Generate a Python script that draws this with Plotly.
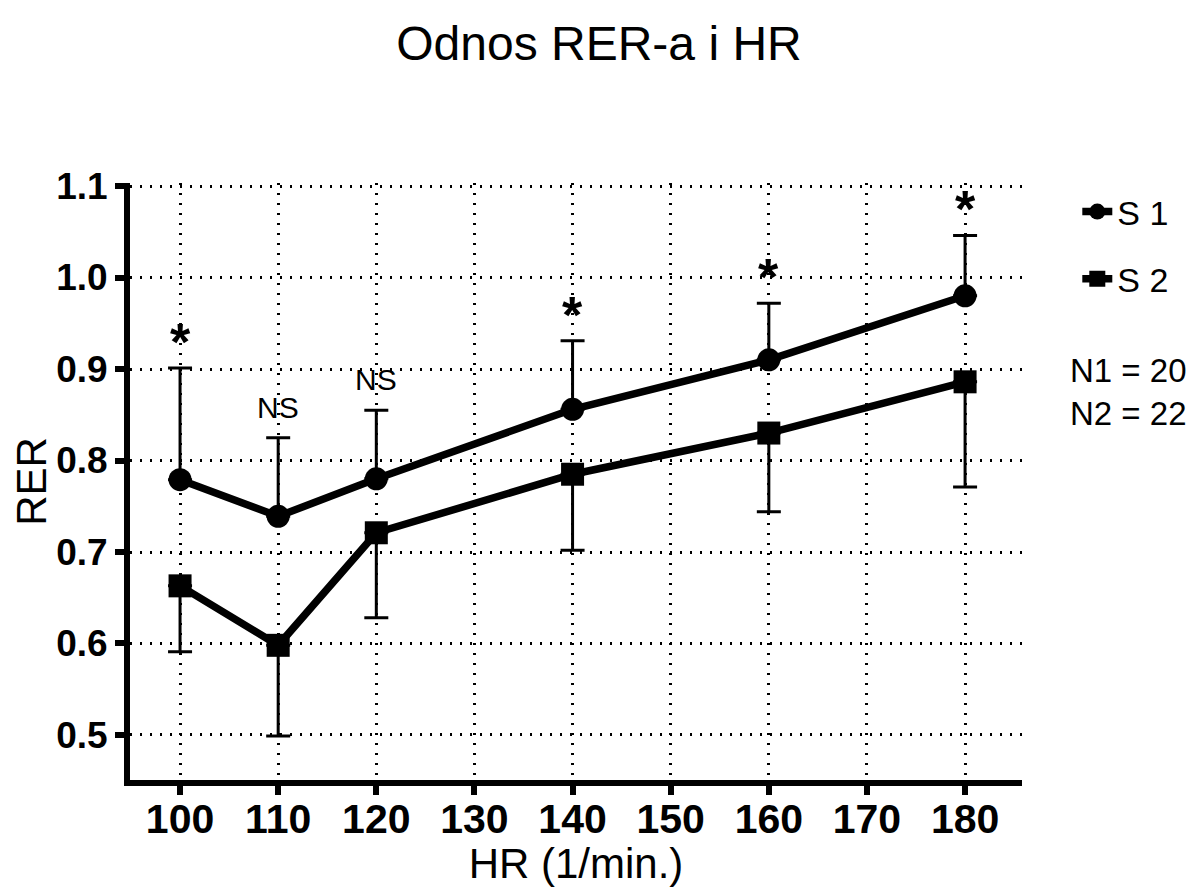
import plotly.graph_objects as go

hr = [100, 110, 120, 140, 160, 180]
s1 = [0.779, 0.739, 0.780, 0.856, 0.910, 0.980]
s1_err_up = [0.122, 0.086, 0.075, 0.075, 0.062, 0.066]
s2 = [0.663, 0.598, 0.721, 0.785, 0.830, 0.886]
s2_err_down = [0.072, 0.099, 0.093, 0.083, 0.086, 0.115]
sig = ["*", "NS", "NS", "*", "*", "*"]
x_ticks = [100, 110, 120, 130, 140, 150, 160, 170, 180]
y_ticks = [0.5, 0.6, 0.7, 0.8, 0.9, 1.0, 1.1]

FONT = "Arial, Liberation Sans, sans-serif"

fig = go.Figure()
fig.add_trace(go.Scatter(
    x=hr, y=s1, name="S 1", mode="lines+markers", legendgroup="a",
    line=dict(color="black", width=7.5),
    marker=dict(symbol="circle", size=23, color="black"),
    error_y=dict(type="data", symmetric=False, array=s1_err_up,
                 arrayminus=[0] * len(hr), color="black", thickness=3, width=12),
))
fig.add_trace(go.Scatter(
    x=hr, y=s2, name="S 2", mode="lines+markers", legendgroup="b",
    line=dict(color="black", width=7.5),
    marker=dict(symbol="square", size=23, color="black"),
    error_y=dict(type="data", symmetric=False, array=[0] * len(hr),
                 arrayminus=s2_err_down, color="black", thickness=3, width=12),
))

for xi, yi, e, s in zip(hr, s1, s1_err_up, sig):
    if s == "*":
        fig.add_annotation(x=xi, y=yi + e, text="<b>*</b>", showarrow=False,
                           yanchor="bottom", yshift=-5,
                           font=dict(size=52, color="black", family=FONT))
    else:
        fig.add_annotation(x=xi, y=yi + e, text="NS", showarrow=False,
                           yanchor="bottom", yshift=12,
                           font=dict(size=30, color="black", family=FONT))

fig.add_annotation(xref="paper", yref="paper", x=1.052, y=0.72, xanchor="left",
                   yanchor="top", align="left", showarrow=False,
                   text="N1 = 20<br>N2 = 22",
                   font=dict(size=33, color="black", family=FONT))

GRID_DASH = "2px,8px"

fig.update_layout(
    width=1182, height=879,
    paper_bgcolor="white", plot_bgcolor="white",
    margin=dict(l=122, r=168, t=175, b=107, autoexpand=False),
    title=dict(text="Odnos RER-a i HR", x=0.5, xanchor="center", y=0.96,
               yanchor="middle", font=dict(size=48, color="black", family=FONT)),
    font=dict(family=FONT, color="black"),
    showlegend=True,
    legend=dict(x=1.062, y=1.0, xanchor="left", yanchor="top",
                font=dict(size=34, color="black", family=FONT),
                tracegroupgap=20, bgcolor="rgba(0,0,0,0)"),
    xaxis=dict(range=[94.9, 185.8], tickvals=x_ticks,
               ticktext=[str(v) for v in x_ticks],
               automargin=False,
               showline=True, linecolor="black", linewidth=6,
               ticks="outside", ticklen=9, tickwidth=6, tickcolor="black",
               ticklabelstandoff=-11,
               showgrid=True, gridcolor="black", griddash=GRID_DASH, gridwidth=2.5,
               zeroline=False,
               tickfont=dict(size=41, color="black", family=FONT, weight="bold"),
               title=dict(text="HR (1/min.)", font=dict(size=42, color="black", family=FONT), standoff=4)),
    yaxis=dict(range=[0.4508, 1.1033], tickvals=y_ticks,
               ticktext=[f"{v:.1f}" for v in y_ticks],
               automargin=False,
               showline=True, linecolor="black", linewidth=6,
               ticks="outside", ticklen=9, tickwidth=6, tickcolor="black",
               showgrid=True, gridcolor="black", griddash=GRID_DASH, gridwidth=2.5,
               zeroline=False,
               tickfont=dict(size=37, color="black", family=FONT, weight="bold"),
               title=dict(text="RER", font=dict(size=42, color="black", family=FONT), standoff=10)),
)

fig.write_html("out.html")
